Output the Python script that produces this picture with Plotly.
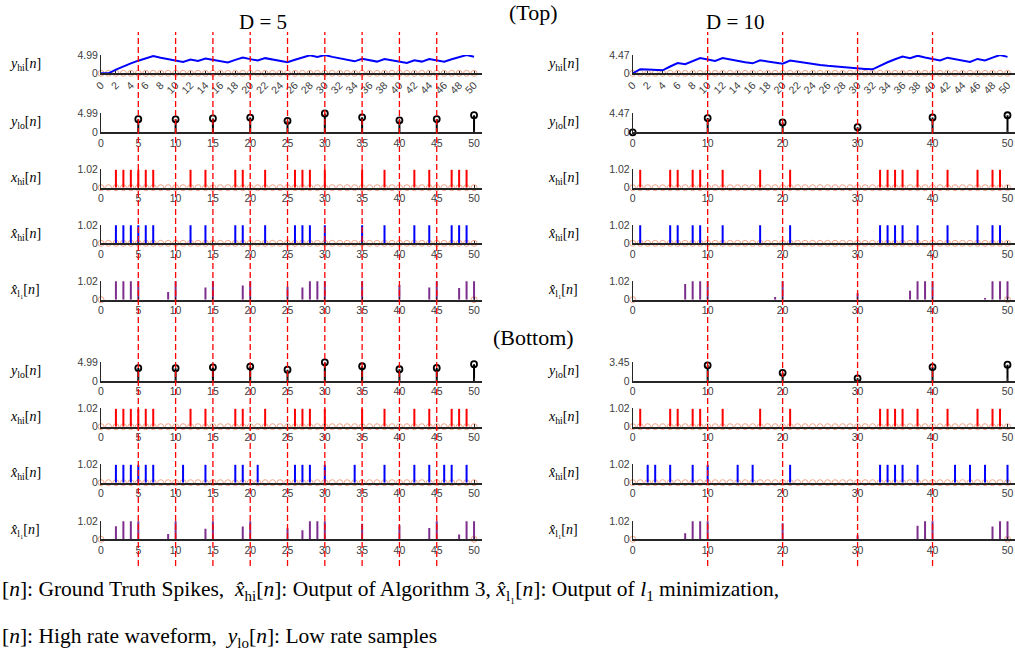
import plotly.graph_objects as go

W, H = 1015, 658

# ---------------- data ----------------
n_all = list(range(51))

# D = 5
yhi_d5 = [0.00, 0.00, 1.00, 1.90, 2.71, 3.44, 4.10, 4.69, 4.22, 3.80,
          3.42, 3.08, 3.77, 3.39, 4.05, 3.65, 3.28, 2.95, 3.66, 4.29,
          3.86, 3.48, 4.13, 3.72, 3.35, 3.01, 3.71, 4.34, 4.91, 4.42,
          4.97, 4.48, 4.03, 3.63, 3.26, 3.94, 3.54, 3.19, 3.87, 3.49,
          3.14, 2.82, 3.54, 3.19, 3.87, 3.48, 3.13, 3.82, 4.44, 4.99,
          4.50]
ylo_d5_n = [5, 10, 15, 20, 25, 30, 35, 40, 45, 50]
ylo_d5_top = [3.44, 3.42, 3.65, 3.86, 3.01, 4.97, 3.94, 3.14, 3.48, 4.50]
ylo_d5_bot = [3.44, 3.42, 3.65, 3.86, 3.01, 4.97, 3.94, 3.14, 3.48, 4.50]
xhi_d5_n = [2, 3, 4, 5, 6, 7, 12, 14, 18, 19, 22, 26, 27, 28, 30, 35, 38, 42, 44, 47, 48, 49]
xhat_d5_top_n = [2, 3, 4, 5, 6, 7, 12, 14, 18, 19, 22, 26, 27, 28, 30, 35, 38, 42, 44, 47, 48, 49]
xhat_d5_bot_n = [2, 3, 4, 5, 6, 7, 11, 14, 18, 19, 21, 26, 27, 28, 30, 34, 38, 42, 44, 46, 47, 49]
xl1_d5_top_n = [2, 3, 4, 5, 9, 10, 14, 15, 19, 20, 25, 27, 28, 29, 30, 35, 40, 44, 45, 48, 49, 50]
xl1_d5_top_v = [1.0, 1.0, 1.0, 1.0, 0.42, 1.0, 0.67, 1.0, 0.78, 1.0, 0.71, 0.66, 1.0, 1.0, 1.0,
                1.0, 0.80, 0.67, 1.0, 0.64, 1.0, 1.0]
xl1_d5_bot_n = [2, 3, 4, 5, 9, 10, 14, 15, 19, 20, 25, 27, 28, 29, 30, 35, 40, 44, 45, 48, 49, 50]
xl1_d5_bot_v = [0.73, 1.0, 1.0, 1.0, 0.29, 1.0, 0.59, 1.0, 0.72, 1.0, 0.61, 0.50, 1.0, 1.0, 1.0,
                0.86, 0.79, 0.63, 1.0, 0.27, 1.0, 1.0]

# D = 10
yhi_d10 = [0.00, 1.00, 0.90, 0.81, 0.73, 1.66, 2.49, 2.24, 3.02, 3.72,
           3.35, 3.01, 3.71, 3.34, 3.01, 2.71, 2.44, 3.19, 2.87, 2.59,
           2.33, 3.10, 2.79, 2.51, 2.26, 2.03, 1.83, 1.65, 1.48, 1.33,
           1.20, 1.08, 0.97, 1.88, 2.69, 3.42, 4.08, 3.67, 4.30, 3.87,
           3.49, 3.14, 3.82, 3.44, 3.10, 2.79, 3.51, 3.16, 3.84, 4.46,
           4.01]
ylo_d10_top_n = [0, 10, 20, 30, 40, 50]
ylo_d10_top = [0.00, 3.35, 2.33, 1.20, 3.49, 4.01]
ylo_d10_bot_n = [10, 20, 30, 40, 50]
ylo_d10_bot = [2.89, 1.50, 0.50, 2.57, 3.01]
xhi_d10_n = [1, 5, 6, 8, 9, 12, 17, 21, 33, 34, 35, 36, 38, 42, 46, 48, 49]
xhat_d10_top_n = [1, 5, 6, 8, 9, 12, 17, 21, 33, 34, 35, 36, 38, 42, 46, 48, 49]
xhat_d10_bot_n = [2, 3, 5, 8, 10, 14, 16, 21, 33, 34, 35, 36, 38, 43, 45, 47, 50]
xl1_d10_top_n = [7, 8, 9, 10, 19, 20, 30, 37, 38, 39, 40, 47, 48, 49, 50]
xl1_d10_top_v = [0.86, 1.0, 1.0, 1.0, 0.15, 1.0, 0.35, 0.49, 1.0, 1.0, 1.0, 0.09, 1.0, 1.0, 1.0]
xl1_d10_bot_n = [7, 8, 9, 10, 20, 30, 38, 39, 40, 48, 49, 50]
xl1_d10_bot_v = [0.34, 1.0, 1.0, 1.0, 0.90, 0.23, 0.75, 1.0, 1.0, 0.72, 1.0, 1.0]

spike_amp = 1.0
dash_d5 = [5, 10, 15, 20, 25, 30, 35, 40, 45]
dash_d10 = [10, 20, 30, 40]

# ---------------- styling ----------------
RED = "#FF0000"
BLUE = "#0000FF"
PURPLE = "#7E2F8E"
BLACK = "#000000"
ORANGE = "#F2A488"
AXC = "#262626"
TICKFONT = dict(family="Liberation Sans, Arial, sans-serif", size=10.5, color="#404040")
SERIF = "Liberation Serif, Times New Roman, serif"

LAB_YHI = "<i>y</i><sub>hi</sub>[<i>n</i>]"
LAB_YLO = "<i>y</i><sub>lo</sub>[<i>n</i>]"
LAB_XHI = "<i>x</i><sub>hi</sub>[<i>n</i>]"
LAB_XHAT = "<i>x\u0302</i><sub>hi</sub>[<i>n</i>]"
LAB_XL1 = "<i>x\u0302</i><sub>l\u2081</sub>[<i>n</i>]"


def stem_xy(ns, vs):
    xs, ys = [], []
    for n, v in zip(ns, vs):
        xs += [n, n, None]
        ys += [0, v, None]
    return xs, ys


cols = {
    "L": dict(dom=[101 / W, 481.5 / W], labx=25, data=dict(
        yhi=yhi_d5, ylo_top=(ylo_d5_n, ylo_d5_top), ylo_bot=(ylo_d5_n, ylo_d5_bot),
        xhi=xhi_d5_n, xhat_top=xhat_d5_top_n, xhat_bot=xhat_d5_bot_n,
        xl1_top=(xl1_d5_top_n, xl1_d5_top_v), xl1_bot=(xl1_d5_bot_n, xl1_d5_bot_v)),
        tick=5, dash=dash_d5, tops=dict(yhi=4.99, ylo_top=4.99, ylo_bot=4.99)),
    "R": dict(dom=[632.7 / W, 1.0], labx=563, data=dict(
        yhi=yhi_d10, ylo_top=(ylo_d10_top_n, ylo_d10_top), ylo_bot=(ylo_d10_bot_n, ylo_d10_bot),
        xhi=xhi_d10_n, xhat_top=xhat_d10_top_n, xhat_bot=xhat_d10_bot_n,
        xl1_top=(xl1_d10_top_n, xl1_d10_top_v), xl1_bot=(xl1_d10_bot_n, xl1_d10_bot_v)),
        tick=10, dash=dash_d10, tops=dict(yhi=4.47, ylo_top=4.47, ylo_bot=3.45)),
}

# panel rows: (kind, top_px, bottom_px)
rows = [
    ("yhi", 55.0, 73.3),
    ("ylo_top", 113.3, 132.3),
    ("xhi", 169.3, 187.7),
    ("xhat_top", 225.0, 243.3),
    ("xl1_top", 281.0, 299.7),
    ("ylo_bot", 362.3, 381.0),
    ("xhi", 408.3, 426.7),
    ("xhat_bot", 464.3, 482.7),
    ("xl1_bot", 521.0, 539.3),
]

fig = go.Figure()
layout = {}
annotations = []
shapes = []
idx = 0
first_axis = {}

for cname in ["L", "R"]:
    c = cols[cname]
    d = c["data"]
    for kind, ptop, pbot in rows:
        idx += 1
        xa = "x" if idx == 1 else f"x{idx}"
        ya = "y" if idx == 1 else f"y{idx}"
        if cname not in first_axis:
            first_axis[cname] = xa
        top = c["tops"].get(kind, 1.02)
        traces = []
        if kind == "yhi":
            traces.append(go.Scatter(x=n_all, y=[0] * len(n_all), mode="markers",
                                     marker=dict(symbol="circle-open", size=6, color=ORANGE, line=dict(width=1)),
                                     cliponaxis=False))
            traces.append(go.Scatter(x=n_all, y=d["yhi"], mode="lines",
                                     line=dict(color=BLUE, width=2), cliponaxis=False))
            label = LAB_YHI
        elif kind.startswith("ylo"):
            ns, vs = d[kind]
            sx, sy = stem_xy(ns, vs)
            traces.append(go.Scatter(x=sx, y=sy, mode="lines", line=dict(color=BLACK, width=2)))
            traces.append(go.Scatter(x=ns, y=vs, mode="markers", cliponaxis=False,
                                     marker=dict(symbol="circle-open", size=6, color=BLACK, line=dict(width=1.8))))
            label = LAB_YLO
        elif kind in ("xhi", "xhat_top", "xhat_bot"):
            ns = d[kind]
            color = RED if kind == "xhi" else BLUE
            traces.append(go.Scatter(x=n_all, y=[0] * len(n_all), mode="markers",
                                     marker=dict(symbol="circle-open", size=6, color=ORANGE, line=dict(width=1)),
                                     cliponaxis=False))
            sx, sy = stem_xy(ns, [spike_amp] * len(ns))
            traces.append(go.Scatter(x=sx, y=sy, mode="lines", line=dict(color=color, width=2)))
            label = LAB_XHI if kind == "xhi" else LAB_XHAT
        else:
            ns, vs = d[kind]
            traces.append(go.Scatter(x=[0, 50], y=[0, 0], mode="markers",
                                     marker=dict(symbol="circle-open", size=6, color=ORANGE, line=dict(width=1)),
                                     cliponaxis=False))
            sx, sy = stem_xy(ns, vs)
            traces.append(go.Scatter(x=sx, y=sy, mode="lines", line=dict(color=PURPLE, width=2)))
            label = LAB_XL1
        for t in traces:
            t.update(xaxis=xa, yaxis=ya, showlegend=False, hoverinfo="skip")
            fig.add_trace(t)

        ydom = [1 - pbot / H, 1 - ptop / H]
        if kind == "yhi":
            xt = list(range(0, 51, 2))
            tickangle = -45
        else:
            xt = list(range(0, 51, c["tick"]))
            tickangle = 0
        xkey = "xaxis" if idx == 1 else f"xaxis{idx}"
        ykey = "yaxis" if idx == 1 else f"yaxis{idx}"
        layout[xkey] = dict(domain=c["dom"], anchor=ya, range=[0, 51], tickvals=xt,
                            ticktext=[str(v) for v in xt], tickangle=tickangle, automargin=False,
                            showgrid=False, zeroline=False, showline=True, linecolor=AXC,
                            linewidth=1.6, ticks="inside", ticklen=3, tickcolor=AXC, tickwidth=1,
                            tickfont=TICKFONT, fixedrange=True)
        layout[ykey] = dict(domain=ydom, anchor=xa, range=[0, top], tickvals=[0, top],
                            ticktext=["0", f"{top:.2f}"], showgrid=False, zeroline=False,
                            automargin=False,
                            showline=True, linecolor=AXC, linewidth=1, ticks="inside", ticklen=4,
                            tickcolor=AXC, tickwidth=1, tickfont=TICKFONT, fixedrange=True)
        annotations.append(dict(text=label, xref="paper", yref="paper", x=c["labx"] / W,
                                y=1 - (ptop + pbot) / 2 / H, xanchor="center", yanchor="middle",
                                showarrow=False, font=dict(family=SERIF, size=14, color=BLACK)))

    for v in c["dash"]:
        shapes.append(dict(type="line", xref=first_axis[cname], yref="paper", x0=v, x1=v,
                           y0=1 - 566 / H, y1=1 - 32 / H,
                           line=dict(color=RED, width=1.3, dash="6px,3px"), layer="above"))

titles = [("D = 5", 263, 22, 21), ("D = 10", 735, 22, 21), ("(Top)", 533, 13, 22), ("(Bottom)", 533, 337, 22)]
for txt, x, y, s in titles:
    annotations.append(dict(text=txt, xref="paper", yref="paper", x=x / W, y=1 - y / H,
                            xanchor="center", yanchor="middle", showarrow=False,
                            font=dict(family=SERIF, size=s, color=BLACK)))

legend_lines = [
    ("[<i>n</i>]: Ground Truth Spikes,  <i>x\u0302</i><sub>hi</sub>[<i>n</i>]: Output of Algorithm 3, "
     "<i>x\u0302</i><sub>l\u2081</sub>[<i>n</i>]: Output of <i>l</i><sub>1</sub> minimization,", 590),
    ("[<i>n</i>]: High rate waveform,  <i>y</i><sub>lo</sub>[<i>n</i>]: Low rate samples", 637),
]
for txt, y in legend_lines:
    annotations.append(dict(text=txt, xref="paper", yref="paper", x=0, y=1 - y / H,
                            xanchor="left", yanchor="middle", showarrow=False,
                            font=dict(family=SERIF, size=21.5, color=BLACK)))

fig.update_layout(**layout)
fig.update_layout(width=W, height=H, margin=dict(l=0, r=0, t=0, b=0, autoexpand=False),
                  paper_bgcolor="white", plot_bgcolor="white", showlegend=False,
                  annotations=annotations, shapes=shapes)

fig.write_html("out.html", config=dict(displayModeBar=False))
